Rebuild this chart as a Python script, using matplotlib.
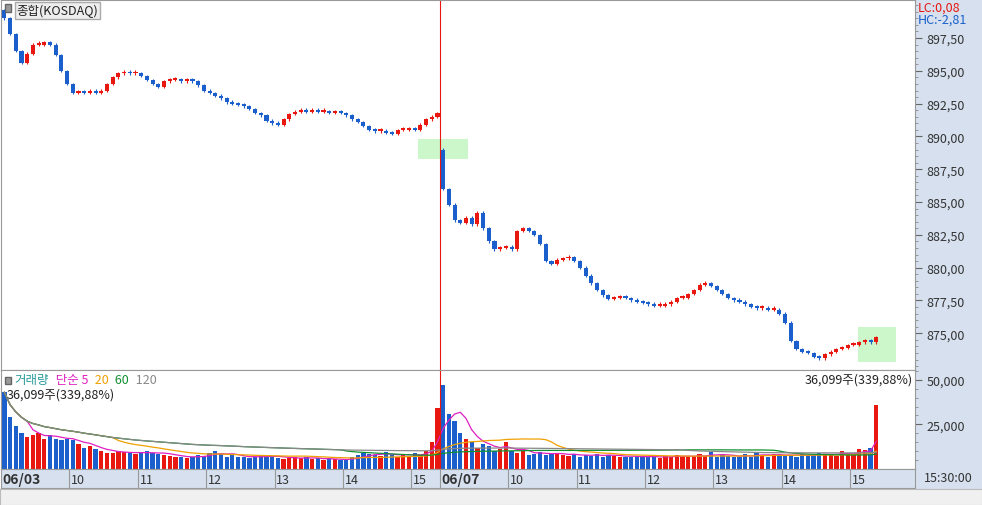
import numpy as np
import pandas as pd
import matplotlib
matplotlib.use("Agg")
import matplotlib.pyplot as plt
from matplotlib.patches import Rectangle

plt.rcParams['font.family'] = ['Noto Sans CJK KR', 'DejaVu Sans']

closes_day1 = [899.0, 897.8, 896.5, 895.6, 896.3, 897.0, 897.0, 897.2, 897.0, 896.2, 895.0, 894.0,
               893.3, 893.4, 893.3, 893.5, 893.3, 893.5, 894.0, 894.5, 894.8, 894.9, 894.8, 894.8,
               894.6, 894.3, 894.0, 893.8, 894.2, 894.3, 894.3, 894.2, 894.3, 894.2, 893.9, 893.5,
               893.3, 893.1, 892.9, 892.6, 892.5, 892.4, 892.3, 892.1, 891.8, 891.6, 891.2, 891.0,
               890.9, 891.3, 891.7, 891.9, 892.0, 891.9, 892.0, 891.9, 891.9, 891.8, 891.9, 891.8,
               891.6, 891.3, 891.1, 890.8, 890.5, 890.4, 890.4, 890.3, 890.2, 890.5, 890.5,
               890.6, 890.5, 890.9, 891.3, 891.5, 891.8]
closes_day2 = [886.0, 884.8, 883.6, 883.4, 883.8, 883.3, 884.2, 883.0, 882.0, 881.4, 881.5, 881.6,
               881.4, 882.8, 883.0, 882.8, 882.5, 881.8, 880.5, 880.3, 880.6, 880.7, 880.8, 880.5,
               880.0, 879.4, 878.8, 878.3, 877.9, 877.6, 877.7, 877.8, 877.7, 877.5, 877.4, 877.3,
               877.2, 877.1, 877.1, 877.2, 877.4, 877.7, 877.7, 878.0, 878.3, 878.7, 878.8, 878.6,
               878.3, 878.0, 877.7, 877.5, 877.4, 877.2, 877.0, 876.9, 876.9, 876.8, 876.8, 876.5,
               875.8, 874.4, 873.8, 873.6, 873.5, 873.2, 873.1, 873.4, 873.6, 873.8, 873.9, 874.1,
               874.1, 874.3, 874.4, 874.3, 874.7]
open_day1 = 899.6
open_day2 = 889.0

volume_day1 = [43000, 29000, 24000, 20000, 18000, 19000, 20000, 17000, 19000, 17000, 16000, 17000,
               16000, 14000, 12000, 13000, 11000, 10000, 9000, 9000, 10000, 9500, 9000, 8500,
               9000, 10000, 9000, 8500, 8000, 7500, 7000, 6500, 6000, 7000, 8000, 7500,
               9000, 10000, 8500, 7000, 8000, 7000, 6500, 6000, 7000, 7500, 8000, 7000,
               6000, 5500, 6000, 7000, 6000, 6500, 5500, 6000, 5000, 6000, 5500, 5000,
               5000, 6500, 8000, 9000, 8500, 8000, 7500, 9500, 8000, 7000, 8000,
               7500, 9000, 8000, 10000, 15000, 34000]
volume_day2 = [47000, 31000, 27000, 20000, 17000, 15000, 12000, 14000, 13000, 10000, 11000, 15000,
               10000, 9000, 10000, 8000, 8500, 9500, 8000, 9000, 8500, 8000, 7500, 8500,
               7000, 8000, 7500, 8500, 7000, 8000, 7500, 7000, 6500, 7000, 7500, 7000,
               6500, 7000, 6000, 7500, 7000, 8000, 7000, 6500, 7000, 8500, 7500, 9500,
               7000, 8000, 7500, 6500, 7000, 8500, 7000, 9000, 8000, 7000, 8500, 8000,
               7500, 8000, 7000, 8500, 7500, 8000, 9000, 8500, 8000, 7500, 10000, 9000,
               8000, 11000, 10500, 12000, 36099]

hour_labels = ['06/03', '10', '11', '12', '13', '14', '15', '06/07', '10', '11', '12', '13', '14', '15']
hour_index = [0, 12, 24, 36, 48, 60, 72, 77, 89, 101, 113, 125, 137, 149]
price_ticks = [875.0, 877.5, 880.0, 882.5, 885.0, 887.5, 890.0, 892.5, 895.0, 897.5]

closes = np.array(closes_day1 + closes_day2)
opens = np.concatenate([[open_day1], closes_day1[:-1], [open_day2], closes_day2[:-1]])
volume = np.array(volume_day1 + volume_day2, dtype=float)
n = len(closes)
idx = np.arange(n)
RED, BLUE = '#e8170f', '#1a5fcc'
up = closes >= opens
colors = np.where(up, RED, BLUE)
split = len(closes_day1) - 0.5

W, H = 982, 506
fig = plt.figure(figsize=(W / 100, H / 100), dpi=100)
fig.patch.set_facecolor('white')

def px(l, t, r, b):
    return [l / W, 1 - b / H, (r - l) / W, (b - t) / H]

xlim = (-0.6, 159.8)
bg = fig.add_axes(px(915, 0, 982, 490)); bg.set_facecolor('#d6e0ee'); bg.set_xticks([]); bg.set_yticks([])
for s in bg.spines.values(): s.set_visible(False)

ax = fig.add_axes(px(1, 1, 915, 371))
ax.set_xlim(*xlim); ax.set_ylim(872.2, 900.4)
body_bottom = np.minimum(opens, closes)
body_h = np.maximum(np.abs(closes - opens), 0.15)
ax.bar(idx, body_h, bottom=body_bottom, width=0.72, color=colors, linewidth=0)
ax.vlines(idx, body_bottom - 0.1, body_bottom + body_h + 0.1, colors=colors, linewidth=0.8)
ax.axvline(split, color=RED, linewidth=0.8)
ax.add_patch(Rectangle((72.6, 888.3), 8.8, 1.5, facecolor='#b6f5b6', alpha=0.7, edgecolor='none', zorder=0))
ax.add_patch(Rectangle((149.8, 872.8), 6.7, 2.7, facecolor='#b6f5b6', alpha=0.7, edgecolor='none', zorder=0))
ax.yaxis.tick_right()
ax.set_yticks(price_ticks)
ax.set_yticklabels([f"{v:.2f}".replace('.', ',') for v in price_ticks], fontsize=9, color='#333')
ax.set_yticks(np.arange(872.5, 900.1, 0.5), minor=True)
ax.tick_params(axis='y', which='major', length=5, pad=3, colors='#666', labelcolor='#333')
ax.tick_params(axis='y', which='minor', length=2, colors='#888')
ax.set_xticks([])
for s in ax.spines.values(): s.set_color('#999'); s.set_linewidth(0.8)
ax.add_patch(Rectangle((0.004, 0.968), 0.007, 0.02, transform=ax.transAxes, facecolor='#999', edgecolor='#666'))
ax.text(0.017, 0.99, '종합(KOSDAQ)', transform=ax.transAxes, fontsize=9, va='top', color='#222',
        bbox=dict(boxstyle='square,pad=0.15', facecolor='#eeeeee', edgecolor='#aaa'))
fig.text(918 / W, 1 - 8 / H, 'LC:0,08', color=RED, fontsize=9, va='center')
fig.text(918 / W, 1 - 20 / H, 'HC:-2,81', color=BLUE, fontsize=9, va='center')

av = fig.add_axes(px(1, 371, 915, 470))
av.set_xlim(*xlim); av.set_ylim(0, 55500)
av.bar(idx, volume, width=0.75, color=colors, linewidth=0)
vs = pd.Series(volume)
for win, c in [(5, '#e020c0'), (20, '#f0a000'), (60, '#109030'), (120, '#888888')]:
    av.plot(idx, vs.rolling(win, min_periods=1).mean(), color=c, linewidth=0.9)
av.axvline(split, color=RED, linewidth=0.8)
av.yaxis.tick_right()
av.set_yticks([25000, 50000]); av.set_yticklabels(['25,000', '50,000'], fontsize=9)
av.set_yticks(np.arange(5000, 55001, 5000), minor=True)
av.tick_params(axis='y', which='major', length=5, colors='#666', labelcolor='#333')
av.tick_params(axis='y', which='minor', length=2, colors='#888')
av.set_xticks([])
for s in av.spines.values(): s.set_color('#999'); s.set_linewidth(0.8)
av.add_patch(Rectangle((0.004, 0.86), 0.007, 0.07, transform=av.transAxes, facecolor='#999', edgecolor='#666'))
x0 = 0.015
for t, c in [('거래량', '#2a9a9a'), (' 단순 5', '#e020c0'), (' 20', '#f0a000'), (' 60', '#109030'), (' 120', '#888888')]:
    tt = av.text(x0, 0.97, t, transform=av.transAxes, fontsize=9, va='top', color=c)
    fig.canvas.draw()
    bb = tt.get_window_extent().transformed(av.transAxes.inverted())
    x0 = bb.x1 + 0.004
av.text(0.006, 0.82, '36,099주(339,88%)', transform=av.transAxes, fontsize=9, va='top', color='#222')
av.text(0.998, 0.97, '36,099주(339,88%)', transform=av.transAxes, fontsize=9, va='top', ha='right', color='#222')

ad = fig.add_axes(px(1, 470, 915, 489))
ad.set_facecolor('#d6e0ee'); ad.set_xlim(*xlim); ad.set_ylim(0, 1)
ad.set_xticks([]); ad.set_yticks([])
for s in ad.spines.values(): s.set_color('#999')
for lab, i in zip(hour_labels, hour_index):
    xx = i - 0.6
    if i > 0:
        ad.axvline(xx, color='#999', linewidth=0.8)
    bold = '/' in lab
    ad.text(xx + 0.3, 0.45, lab, fontsize=10 if bold else 9, fontweight='bold' if bold else 'normal',
            va='center', color='#333')
fig.text(948 / W, 1 - 479 / H, '15:30:00', fontsize=9, ha='center', va='center', color='#333')

at = fig.add_axes(px(0, 490, 982, 506)); at.set_facecolor('#f0f0f0')
at.set_xticks([]); at.set_yticks([])
for s in at.spines.values(): s.set_color('#bbb')

fig.savefig('out.png', dpi=100)
